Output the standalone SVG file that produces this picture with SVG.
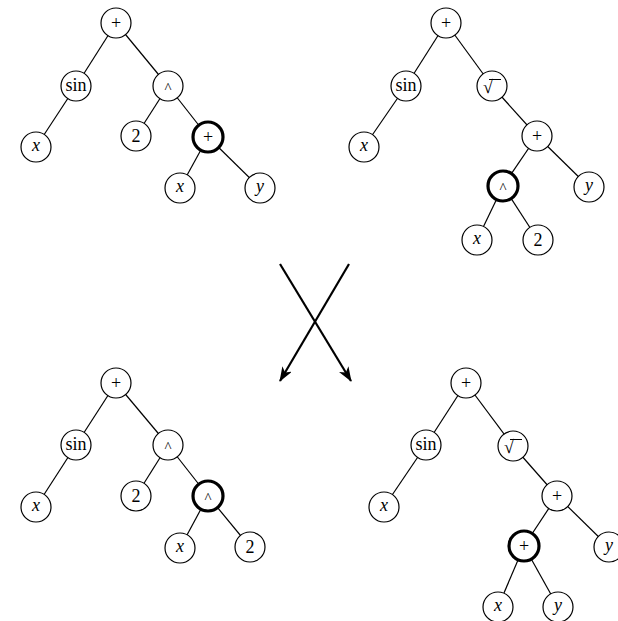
<svg xmlns="http://www.w3.org/2000/svg" width="618" height="621" viewBox="0 0 618 621" font-family="'Liberation Serif', 'Times New Roman', Times, serif">
<style>
.n circle{fill:#fff;stroke:#000;stroke-width:1.2}
.b circle{fill:#fff;stroke:#000;stroke-width:3.2}
text{font-family:"Liberation Serif","Times New Roman",Times,serif;font-size:18px;text-anchor:middle;fill:#000}
.v{font-style:italic}
.c{font-size:15px}
.e line{stroke:#000;stroke-width:1.2}
.a line{stroke:#000;stroke-width:2.2}
.bar{stroke:#000;stroke-width:1}
</style>
<defs>
<marker id="ah" viewBox="0 0 15 11" refX="14" refY="5.5" markerWidth="15" markerHeight="11" markerUnits="userSpaceOnUse" orient="auto">
<path d="M0,0 L15,5.5 L0,11 L4,5.5 z" fill="#000"/>
</marker>
</defs>
<rect width="618" height="621" fill="#fff"/>
<g id="connectors">
<g class="e">
<line x1="116" y1="23" x2="76" y2="86"/><line x1="116" y1="23" x2="168" y2="86"/>
<line x1="76" y1="86" x2="36" y2="147"/><line x1="168" y1="86" x2="136" y2="136"/>
<line x1="168" y1="86" x2="208" y2="137"/><line x1="208" y1="137" x2="180" y2="188"/>
<line x1="208" y1="137" x2="260" y2="188"/>
<line x1="446" y1="23" x2="406" y2="86"/><line x1="446" y1="23" x2="492" y2="86"/>
<line x1="406" y1="86" x2="364" y2="147"/><line x1="492" y1="86" x2="537" y2="136"/>
<line x1="537" y1="136" x2="503" y2="186"/><line x1="537" y1="136" x2="589" y2="187"/>
<line x1="503" y1="186" x2="477" y2="240"/><line x1="503" y1="186" x2="538" y2="240"/>
<line x1="116" y1="383" x2="76" y2="445"/><line x1="116" y1="383" x2="168" y2="445"/>
<line x1="76" y1="445" x2="36" y2="507"/><line x1="168" y1="445" x2="136" y2="496"/>
<line x1="168" y1="445" x2="208" y2="496"/><line x1="208" y1="496" x2="180" y2="548"/>
<line x1="208" y1="496" x2="250" y2="547"/>
<line x1="466" y1="383" x2="426" y2="445"/><line x1="466" y1="383" x2="513" y2="446"/>
<line x1="426" y1="445" x2="384" y2="507"/><line x1="513" y1="446" x2="557" y2="496"/>
<line x1="557" y1="496" x2="524" y2="546"/><line x1="557" y1="496" x2="609" y2="547"/>
<line x1="524" y1="546" x2="498" y2="607"/><line x1="524" y1="546" x2="558" y2="607"/>
</g>
<g class="a">
<line x1="349" y1="264" x2="280" y2="381" marker-end="url(#ah)"/>
<line x1="280" y1="264" x2="351" y2="381" marker-end="url(#ah)"/>
</g>
</g>
<g id="t1-root" class="n"><circle cx="116" cy="23" r="15"/><text x="116" y="29">+</text></g>
<g id="t1-sin" class="n"><circle cx="76" cy="86" r="15"/><text x="76" y="91">sin</text></g>
<g id="t1-pow" class="n"><circle cx="168" cy="86" r="15"/><text class="c" x="168" y="93">^</text></g>
<g id="t1-x1" class="n"><circle cx="36" cy="147" r="15"/><text class="v" x="36" y="151">x</text></g>
<g id="t1-2" class="n"><circle cx="136" cy="136" r="15"/><text x="136" y="142">2</text></g>
<g id="t1-plus" class="b"><circle cx="208" cy="137" r="15"/><text x="208" y="143">+</text></g>
<g id="t1-x2" class="n"><circle cx="180" cy="188" r="15"/><text class="v" x="180" y="192">x</text></g>
<g id="t1-y" class="n"><circle cx="260" cy="188" r="15"/><text class="v" x="260" y="192">y</text></g>
<g id="t2-root" class="n"><circle cx="446" cy="23" r="15"/><text x="446" y="29">+</text></g>
<g id="t2-sin" class="n"><circle cx="406" cy="86" r="15"/><text x="406" y="91">sin</text></g>
<g id="t2-sqrt" class="n"><circle cx="492" cy="86" r="15"/><text x="488" y="93">√</text><line class="bar" x1="489" y1="79.5" x2="501" y2="79.5"/></g>
<g id="t2-x1" class="n"><circle cx="364" cy="147" r="15"/><text class="v" x="364" y="151">x</text></g>
<g id="t2-plus" class="n"><circle cx="537" cy="136" r="15"/><text x="537" y="142">+</text></g>
<g id="t2-pow" class="b"><circle cx="503" cy="186" r="15"/><text class="c" x="503" y="193">^</text></g>
<g id="t2-y" class="n"><circle cx="589" cy="187" r="15"/><text class="v" x="589" y="191">y</text></g>
<g id="t2-x2" class="n"><circle cx="477" cy="240" r="15"/><text class="v" x="477" y="244">x</text></g>
<g id="t2-2" class="n"><circle cx="538" cy="240" r="15"/><text x="538" y="246">2</text></g>
<g id="t3-root" class="n"><circle cx="116" cy="383" r="15"/><text x="116" y="389">+</text></g>
<g id="t3-sin" class="n"><circle cx="76" cy="445" r="15"/><text x="76" y="450">sin</text></g>
<g id="t3-pow" class="n"><circle cx="168" cy="445" r="15"/><text class="c" x="168" y="452">^</text></g>
<g id="t3-x1" class="n"><circle cx="36" cy="507" r="15"/><text class="v" x="36" y="511">x</text></g>
<g id="t3-2" class="n"><circle cx="136" cy="496" r="15"/><text x="136" y="502">2</text></g>
<g id="t3-pow2" class="b"><circle cx="208" cy="496" r="15"/><text class="c" x="208" y="503">^</text></g>
<g id="t3-x2" class="n"><circle cx="180" cy="548" r="15"/><text class="v" x="180" y="552">x</text></g>
<g id="t3-2b" class="n"><circle cx="250" cy="547" r="15"/><text x="250" y="553">2</text></g>
<g id="t4-root" class="n"><circle cx="466" cy="383" r="15"/><text x="466" y="389">+</text></g>
<g id="t4-sin" class="n"><circle cx="426" cy="445" r="15"/><text x="426" y="450">sin</text></g>
<g id="t4-sqrt" class="n"><circle cx="513" cy="446" r="15"/><text x="509" y="453">√</text><line class="bar" x1="510" y1="439.5" x2="522" y2="439.5"/></g>
<g id="t4-x1" class="n"><circle cx="384" cy="507" r="15"/><text class="v" x="384" y="511">x</text></g>
<g id="t4-plus" class="n"><circle cx="557" cy="496" r="15"/><text x="557" y="502">+</text></g>
<g id="t4-plus2" class="b"><circle cx="524" cy="546" r="15"/><text x="524" y="552">+</text></g>
<g id="t4-y1" class="n"><circle cx="609" cy="547" r="15"/><text class="v" x="609" y="551">y</text></g>
<g id="t4-x2" class="n"><circle cx="498" cy="607" r="15"/><text class="v" x="498" y="611">x</text></g>
<g id="t4-y2" class="n"><circle cx="558" cy="607" r="15"/><text class="v" x="558" y="611">y</text></g>
</svg>
